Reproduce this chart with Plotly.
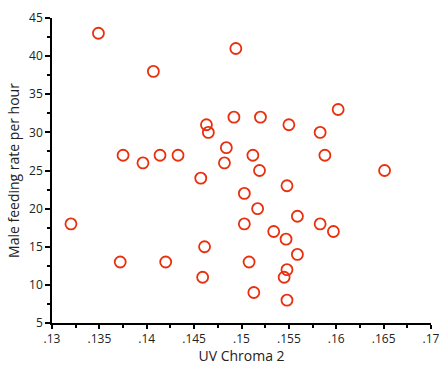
import plotly.graph_objects as go

uv_chroma = [.1349, .1494, .1407, .1602, .1492, .1520, .1463, .1465, .1550, .1583,
             .1484, .1375, .1414, .1433, .1396, .1512, .1482, .1588, .1519, .1651,
             .1457, .1548, .1503, .1517, .1559, .1320, .1503, .1583, .1534, .1597,
             .1547, .1461, .1559, .1372, .1420, .1508, .1548, .1545, .1459, .1513,
             .1548]
feeding = [43, 41, 38, 33, 32, 32, 31, 30, 31, 30,
           28, 27, 27, 27, 26, 27, 26, 27, 25, 25,
           24, 23, 22, 20, 19, 18, 18, 18, 17, 17,
           16, 15, 14, 13, 13, 13, 12, 11, 11, 9,
           8]

x_ticks = [.13, .135, .14, .145, .15, .155, .16, .165, .17]
x_labels = [".13", ".135", ".14", ".145", ".15", ".155", ".16", ".165", ".17"]
y_ticks = [5, 10, 15, 20, 25, 30, 35, 40, 45]
y_labels = ["5", "10", "15", "20", "25", "30", "35", "40", "45"]

fig = go.Figure(go.Scatter(
    x=uv_chroma, y=feeding, mode="markers",
    marker=dict(symbol="circle-open", size=11, color="#e8300e",
                line=dict(width=1.8, color="#e8300e")),
    cliponaxis=False,
))

font = dict(family="Open Sans, Lato, sans-serif", size=12, color="#222")
fig.update_layout(
    width=440, height=365, margin=dict(l=52, r=9, t=15, b=42),
    paper_bgcolor="white", plot_bgcolor="white", showlegend=False,
    font=font,
    xaxis=dict(range=[.13, .17], tickvals=x_ticks, ticktext=x_labels,
               showgrid=False, zeroline=False, showline=True, linecolor="black",
               linewidth=1.5, ticks="outside", ticklen=4, tickwidth=1.5,
               tickcolor="black", automargin=False,
               minor=dict(dtick=.0025, tick0=.13, ticks="outside", ticklen=3,
                          tickwidth=1.5, tickcolor="black", showgrid=False),
               title=dict(text="UV Chroma 2", font=dict(size=14, color="#222"), standoff=8)),
    yaxis=dict(range=[5, 45], tickvals=y_ticks, ticktext=y_labels,
               showgrid=False, zeroline=False, showline=True, linecolor="black",
               linewidth=1.5, ticks="outside", ticklen=5, tickwidth=1.5,
               tickcolor="black",
               minor=dict(dtick=2.5, tick0=5, ticks="outside", ticklen=3,
                          tickwidth=1.5, tickcolor="black", showgrid=False),
               title=dict(text="Male feeding rate per hour", font=dict(size=14, color="#222"), standoff=6)),
)
fig.write_html("out.html")
